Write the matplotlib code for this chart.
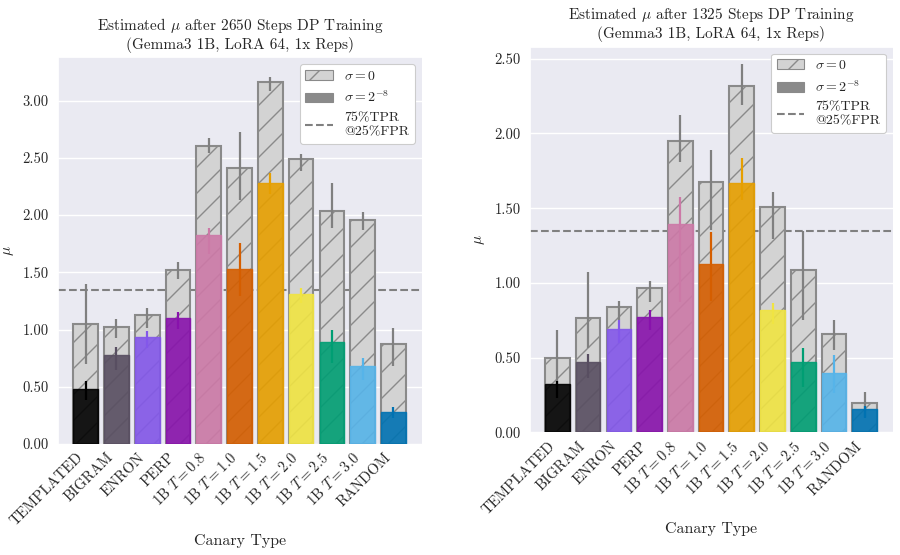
import matplotlib
matplotlib.use("Agg")
import matplotlib.pyplot as plt
import seaborn as sns
import numpy as np
from matplotlib.patches import Patch
from matplotlib.lines import Line2D
from matplotlib.ticker import FormatStrFormatter

DPI = 78
S = 100 / DPI  # keep sizes as if drawn at 100 dpi

sns.set_style("darkgrid")
plt.rcParams['font.family'] = ['serif']
plt.rcParams['font.serif'] = ['cmr10', 'DejaVu Serif']
plt.rcParams['mathtext.fontset'] = 'cm'
plt.rcParams['axes.formatter.use_mathtext'] = True
plt.rcParams['axes.unicode_minus'] = False
plt.rcParams['hatch.linewidth'] = 1.0 * S
plt.rcParams['grid.linewidth'] = 1.0 * S

canaries = ['TEMPLATED', 'BIGRAM', 'ENRON', 'PERP',
            r'1B $T=0.8$', r'1B $T=1.0$', r'1B $T=1.5$', r'1B $T=2.0$',
            r'1B $T=2.5$', r'1B $T=3.0$', 'RANDOM']
colors = ['#000000', '#584E61', '#8357EA', '#8812AC', '#CC79A7', '#D55E00',
          '#E69F00', '#F0E442', '#009E73', '#56B4E9', '#0072B2']
threshold = 1.349  # mu giving 75% TPR at 25% FPR

# left panel: 2650 steps
mu0_2650 = [1.045, 1.025, 1.124, 1.523, 2.607, 2.409, 3.166, 2.488, 2.036, 1.955, 0.870]
lo0_2650 = [0.695, 0.923, 1.010, 1.439, 2.546, 2.132, 3.088, 2.388, 1.885, 1.870, 0.681]
hi0_2650 = [1.395, 1.089, 1.191, 1.587, 2.671, 2.729, 3.204, 2.534, 2.283, 2.027, 1.016]
mu8_2650 = [0.483, 0.777, 0.934, 1.103, 1.826, 1.526, 2.278, 1.310, 0.894, 0.684, 0.276]
lo8_2650 = [0.384, 0.646, 0.836, 1.004, 1.660, 1.293, 2.184, 1.234, 0.710, 0.559, 0.224]
hi8_2650 = [0.553, 0.844, 0.987, 1.156, 1.885, 1.753, 2.365, 1.366, 0.996, 0.748, 0.325]

# right panel: 1325 steps
mu0_1325 = [0.496, 0.764, 0.838, 0.963, 1.952, 1.675, 2.316, 1.508, 1.088, 0.657, 0.195]
lo0_1325 = [0.306, 0.563, 0.753, 0.869, 1.811, 1.356, 2.193, 1.293, 0.753, 0.552, 0.105]
hi0_1325 = [0.686, 1.070, 0.876, 1.010, 2.121, 1.891, 2.461, 1.608, 1.349, 0.753, 0.269]
mu8_1325 = [0.322, 0.469, 0.693, 0.771, 1.391, 1.126, 1.668, 0.820, 0.474, 0.396, 0.155]
lo8_1325 = [0.232, 0.366, 0.601, 0.686, 0.869, 0.880, 1.557, 0.726, 0.306, 0.262, 0.094]
hi8_1325 = [0.344, 0.525, 0.753, 0.820, 1.572, 1.338, 1.836, 0.865, 0.563, 0.518, 0.179]


def yerr(mu, lo, hi):
    mu, lo, hi = np.array(mu), np.array(lo), np.array(hi)
    return np.vstack([mu - lo, hi - mu])


def panel(ax, steps, mu0, lo0, hi0, mu8, lo8, hi8, ytop):
    x = np.arange(len(canaries))
    ax.bar(x, mu0, width=0.8, color='#D3D3D3', edgecolor='#8A8A8A',
           hatch='/', linewidth=1.5 * S, zorder=2)
    ax.errorbar(x, mu0, yerr=yerr(mu0, lo0, hi0), fmt='none',
                ecolor='#808080', elinewidth=1.6 * S, zorder=3)
    ax.bar(x, mu8, width=0.8, color=colors, edgecolor=colors, alpha=0.9,
           linewidth=1.0 * S, zorder=4)
    e8 = yerr(mu8, lo8, hi8)
    for i in range(len(x)):
        ax.errorbar(x[i], mu8[i], yerr=e8[:, i:i + 1], fmt='none',
                    ecolor=colors[i], elinewidth=1.6 * S, zorder=5)
    ax.axhline(threshold, color='#808080', ls='--', lw=1.5 * S, zorder=1.5)
    ax.set_xlim(-0.89, 10.92)
    ax.set_ylim(0, ytop)
    ax.grid(axis='x', visible=False)
    ax.set_xticks(x)
    ax.set_xticklabels(canaries, rotation=45, ha='right', fontsize=10.6 * S)
    ax.yaxis.set_major_formatter(FormatStrFormatter('%.2f'))
    ax.tick_params(axis='y', labelsize=10.5 * S, pad=4 * S)
    ax.tick_params(axis='x', pad=2 * S)
    ax.set_ylabel(r'$\mu$', fontsize=11 * S, labelpad=5 * S)
    ax.set_xlabel('Canary Type', fontsize=11.5 * S, labelpad=4 * S)
    ax.set_title('Estimated $\\mu$ after %d Steps DP Training\n(Gemma3 1B, LoRA 64, 1x Reps)' % steps,
                 fontsize=11 * S, pad=6 * S)
    handles = [Patch(facecolor='#D3D3D3', edgecolor='#8A8A8A', hatch='/'),
               Patch(facecolor='#8A8A8A', edgecolor='#8A8A8A'),
               Line2D([0], [0], color='#808080', ls='--', lw=1.5 * S)]
    labels = [r'$\sigma=0$', r'$\sigma=2^{-8}$', '75%TPR\n@25%FPR']
    ax.legend(handles, labels, loc='upper right', fontsize=10 * S, facecolor='white',
              framealpha=1)


fig = plt.figure(figsize=(900 / DPI, 555 / DPI), dpi=DPI)
ax1 = fig.add_axes([0.0648, 0.2002, 0.4038, 0.6966])
ax2 = fig.add_axes([0.5889, 0.2209, 0.4033, 0.6950])
panel(ax1, 2650, mu0_2650, lo0_2650, hi0_2650, mu8_2650, lo8_2650, hi8_2650, 3.38)
panel(ax2, 1325, mu0_1325, lo0_1325, hi0_1325, mu8_1325, lo8_1325, hi8_1325, 2.58)
fig.savefig('out.png', dpi=DPI)
